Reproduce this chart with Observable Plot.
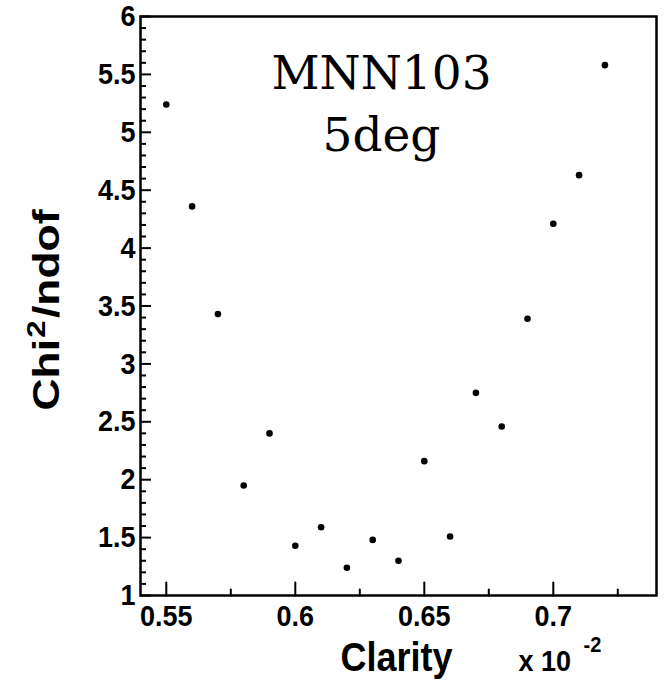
<!DOCTYPE html>
<html>
<head>
<meta charset="utf-8">
<script src="https://cdn.jsdelivr.net/npm/d3@7"></script>
<script src="https://cdn.jsdelivr.net/npm/@observablehq/plot@0.6"></script>
<style>
  html, body { margin: 0; padding: 0; background: #fff; }
  #chart { width: 664px; height: 680px; }
</style>
</head>
<body>
<div id="chart"></div>
<script>
// Data
const clarity = [0.55, 0.56, 0.57, 0.58, 0.59, 0.60, 0.61, 0.62, 0.63, 0.64, 0.65, 0.66, 0.67, 0.68, 0.69, 0.70, 0.71, 0.72];
const chi2ndof = [5.24, 4.36, 3.43, 1.95, 2.40, 1.43, 1.59, 1.24, 1.48, 1.30, 2.16, 1.51, 2.75, 2.46, 3.39, 4.21, 4.63, 5.58];

const xMajorTicks = [0.55, 0.60, 0.65, 0.70];
const xMinorTicks = [0.575, 0.625, 0.675, 0.725];
const yMajorTicks = [1, 1.5, 2, 2.5, 3, 3.5, 4, 4.5, 5, 5.5, 6];
const yMinorTicks = d3.range(1, 6.001, 0.1).map(v => +v.toFixed(1)).filter(v => !yMajorTicks.includes(v));

const xTitle = "Clarity";
const xExponentBase = "x 10";
const xExponent = "-2";
const yTitleMain = "Chi";
const yTitleSup = "2";
const yTitleRest = "/ndof";
const annotation = "MNN103\n5deg";

const points = clarity.map((c, i) => ({clarity: c, chi: chi2ndof[i]}));

const sans = "'Liberation Sans', Arial, Helvetica, sans-serif";

// inward tick shape (drawn from the frame edge into the plot)
const tickShape = {draw(context, l) { context.moveTo(0, 0); context.lineTo(0, -l); }};

const chart = Plot.plot({
  width: 664,
  height: 680,
  marginLeft: 140,
  marginRight: 8,
  marginTop: 16,
  marginBottom: 85,
  style: {background: "#fff", color: "#000"},
  x: {domain: [0.54, 0.74]},
  y: {domain: [1, 6]},
  marks: [
    Plot.frame({stroke: "#000", strokeWidth: 2.5, fill: "none"}),
    // inward ticks
    Plot.vector(xMajorTicks, {x: d => d, frameAnchor: "bottom", length: 13, anchor: "start", rotate: 0, shape: tickShape, stroke: "#000", strokeWidth: 2}),
    Plot.vector(xMinorTicks, {x: d => d, frameAnchor: "bottom", length: 6, anchor: "start", rotate: 0, shape: tickShape, stroke: "#000", strokeWidth: 2}),
    Plot.tickY(yMajorTicks, {y: d => d, stroke: "#000", strokeWidth: 2, insetRight: 505}),
    Plot.tickY(yMinorTicks, {y: d => d, stroke: "#000", strokeWidth: 2, insetRight: 510}),
    Plot.axisX(xMajorTicks, {tickSize: 0, tickPadding: 9, fontSize: 27, fontWeight: "bold", fontFamily: sans, label: null, tickFormat: d => String(+d.toFixed(2))}),
    Plot.axisY(yMajorTicks, {tickSize: 0, tickPadding: 5, fontSize: 27, fontWeight: "bold", fontFamily: sans, label: null, tickFormat: d => String(d)}),
    Plot.dot(points, {x: "clarity", y: "chi", r: 3.3, fill: "#000", stroke: null}),
    // annotation inside the frame
    Plot.text([annotation], {text: d => d, frameAnchor: "top", dx: -17, dy: 29, lineAnchor: "top", lineHeight: 1.31,
      fontSize: 47, fontFamily: "'DejaVu Serif', 'Liberation Serif', serif", fill: "#000"}),
    // axis titles
    Plot.text([xTitle], {text: d => d, frameAnchor: "bottom", dx: -2, dy: 75, lineAnchor: "bottom", textAnchor: "middle",
      fontSize: 36, fontWeight: "bold", fontFamily: sans, fill: "#000"}),
    Plot.text([xExponentBase], {text: d => d, frameAnchor: "bottom-left", dx: 378, dy: 75, lineAnchor: "bottom", textAnchor: "start",
      fontSize: 27, fontWeight: "bold", fontFamily: sans, fill: "#000"}),
    Plot.text([xExponent], {text: d => d, frameAnchor: "bottom-left", dx: 443, dy: 56, lineAnchor: "bottom", textAnchor: "start",
      fontSize: 20, fontWeight: "bold", fontFamily: sans, fill: "#000"}),
    Plot.text([yTitleMain + yTitleSup + yTitleRest], {text: d => d, frameAnchor: "left", dx: -82, dy: 4, rotate: -90, lineAnchor: "bottom", textAnchor: "middle",
      fontSize: 37, fontWeight: "bold", fontFamily: sans, fill: "#000"})
  ]
});

// ROOT-style Helvetica glyphs are taller than Arial: stretch sans text vertically
const stretch = 1.12;
const stretchTexts = new Set([xTitle, xExponentBase, xExponent]);
chart.querySelectorAll("text").forEach(t => {
  const g = t.parentNode;
  const aria = (g && g.getAttribute && g.getAttribute("aria-label")) || "";
  const tr = t.getAttribute("transform") || "";
  if (aria.includes("tick label") || stretchTexts.has(t.textContent)) {
    t.setAttribute("transform", tr + ` scale(1,${stretch})`);
  } else if (t.textContent === yTitleMain + yTitleSup + yTitleRest) {
    t.setAttribute("transform", tr + " scale(1.2,1)");
    // superscript 2, kept as real text
    t.textContent = "";
    const ns = "http://www.w3.org/2000/svg";
    const a = document.createElementNS(ns, "tspan"); a.textContent = yTitleMain;
    const b = document.createElementNS(ns, "tspan"); b.textContent = yTitleSup;
    b.setAttribute("font-size", "26"); b.setAttribute("dy", "-14"); b.setAttribute("dx", "1");
    const c = document.createElementNS(ns, "tspan"); c.textContent = yTitleRest;
    c.setAttribute("dy", "14"); c.setAttribute("dx", "2");
    t.append(a, b, c);
  }
});

document.getElementById("chart").appendChild(chart);
</script>
</body>
</html>
